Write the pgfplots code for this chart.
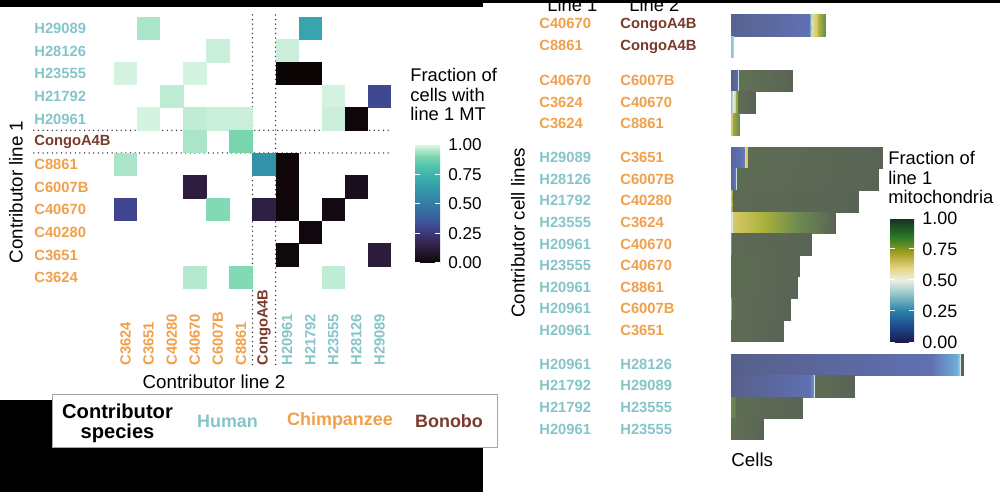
\documentclass[border=0pt]{standalone}
\usepackage{pgfplots}
\pgfplotsset{compat=1.18}
\usepackage{fontspec}
\setmainfont{Liberation Sans}
\setsansfont{Liberation Sans}

\definecolor{human}{RGB}{133,196,201}
\definecolor{chimp}{RGB}{240,160,75}
\definecolor{bonobo}{RGB}{122,59,43}
\definecolor{dotline}{RGB}{45,45,45}
\definecolor{boxgray}{RGB}{165,165,165}

\pgfplotsset{
  colorbar shift/.style={xshift=0pt},
  colormap={mako}{rgb255=(11,4,5) rgb255=(40,25,50) rgb255=(56,42,92) rgb255=(63,70,143)
    rgb255=(56,100,158) rgb255=(53,123,162) rgb255=(52,146,168) rgb255=(56,170,172)
    rgb255=(73,193,173) rgb255=(120,214,174) rgb255=(222,245,229)},
  colormap={mito}{rgb255(0cm)=(25,30,75) rgb255(12cm)=(30,70,140) rgb255(25cm)=(40,130,170)
    rgb255(38cm)=(140,195,200) rgb255(50cm)=(238,238,228) rgb255(60cm)=(228,210,130)
    rgb255(72cm)=(160,160,30) rgb255(85cm)=(40,120,40) rgb255(100cm)=(25,45,35)},
  colormap={mitomuted}{rgb255(0cm)=(86,96,138) rgb255(12cm)=(96,112,178) rgb255(25cm)=(110,175,215)
    rgb255(38cm)=(180,220,225) rgb255(50cm)=(235,238,225) rgb255(60cm)=(215,200,105)
    rgb255(72cm)=(170,178,60) rgb255(85cm)=(110,140,80) rgb255(100cm)=(90,100,85)},
}

\newcommand{\pair}[4]{\makebox[40.5bp][l]{\textcolor{#1}{#2}}\textcolor{#3}{#4}}
\newcommand{\lab}{\fontsize{7.4}{8}\selectfont\bfseries}
\newcommand{\ttl}{\fontsize{9.4}{10}\selectfont}

\begin{document}
\begin{tikzpicture}
\path[use as bounding box] (0,0) rectangle (500bp,246bp);
% black surround of the left panel
\fill[black] (0,0) rectangle (241.5bp,46bp);

% ---------- left: heatmap ----------
\begin{axis}[
  at={(57bp,101.5bp)}, anchor=south west,
  width=138.5bp, height=136bp, scale only axis,
  xmin=0.5, xmax=12.5, ymin=0.5, ymax=12.5,
  axis line style={draw=none}, tick style={draw=none},
  xtick={1,...,12}, ytick={1,...,12},
  xticklabels={\textcolor{chimp}{C3624},\textcolor{chimp}{C3651},\textcolor{chimp}{C40280},
    \textcolor{chimp}{C40670},\textcolor{chimp}{C6007B},\textcolor{chimp}{C8861},
    \textcolor{bonobo}{CongoA4B},\textcolor{human}{H20961},\textcolor{human}{H21792},
    \textcolor{human}{H23555},\textcolor{human}{H28126},\textcolor{human}{H29089}},
  yticklabels={\textcolor{chimp}{C3624},\textcolor{chimp}{C3651},\textcolor{chimp}{C40280},
    \textcolor{chimp}{C40670},\textcolor{chimp}{C6007B},\textcolor{chimp}{C8861},
    \textcolor{bonobo}{CongoA4B},\textcolor{human}{H20961},\textcolor{human}{H21792},
    \textcolor{human}{H23555},\textcolor{human}{H28126},\textcolor{human}{H29089}},
  tick label style={font=\lab, inner sep=0pt},
  x tick label style={rotate=90, anchor=west},
  xticklabel shift=38.5bp,
  y tick label style={anchor=west},
  yticklabel shift=40bp,
  colormap name=mako, point meta min=0, point meta max=1,
  colorbar,
  colorbar style={
    at={(207.5bp,173.5bp)}, anchor=north west,
    width=12.5bp, height=59bp, scale only axis,
    axis line style={draw=none}, xtick=\empty,
    ytick={0,0.25,0.5,0.75,1}, yticklabels={0.00,0.25,0.50,0.75,1.00},
    ytick style={draw=white, line width=0.5bp}, major tick length=2.5bp,
    tick align=inside, ytick pos=both, yticklabel pos=right,
    y tick label style={font=\fontsize{8.6}{9}\selectfont, anchor=west, inner sep=0pt, rotate=0},
    yticklabel shift=4bp,
  },
  clip=false,
]
\addplot[scatter, only marks, mark=square*, mark size=5.6bp,
  scatter/use mapped color={draw=mapped color, fill=mapped color},
  point meta=explicit] table[meta=v] {
x y v
2 12 0.95
9 12 0.68
5 11 0.98
8 11 0.98
1 10 0.99
4 10 0.99
8 10 0.00
9 10 0.00
3 9 0.97
10 9 0.99
12 9 0.31
2 8 0.99
4 8 0.97
5 8 0.98
6 8 0.98
10 8 0.98
11 8 0.01
4 7 0.95
6 7 0.90
1 6 0.95
7 6 0.60
8 6 0.01
4 5 0.13
8 5 0.01
11 5 0.05
1 4 0.30
5 4 0.91
7 4 0.14
8 4 0.01
10 4 0.03
9 3 0.02
8 2 0.02
12 2 0.12
4 1 0.96
6 1 0.91
10 1 0.97
};
\draw[dotline, line width=0.75bp, line cap=round, dash pattern=on 0pt off 2.3bp]
  (axis cs:6.5,12.59) -- (axis cs:6.5,-2.98)
  (axis cs:7.5,12.59) -- (axis cs:7.5,-2.98)
  (axis cs:-2.97,6.5) -- (axis cs:12.5,6.5)
  (axis cs:-2.97,7.5) -- (axis cs:12.5,7.5);
\end{axis}

\node[rotate=90, font=\ttl] at (8bp,150bp) {Contributor line 1};
\node[font=\ttl] at (107bp,55bp) {Contributor line 2};
\node[anchor=north west, align=left, inner sep=0pt, font=\fontsize{9.2}{9.8}\selectfont]
  at (205bp,212bp) {Fraction of\\cells with\\line 1 MT};

% legend box
\draw[boxgray, fill=white, line width=0.5bp] (26bp,22bp) rectangle (248.5bp,48.5bp);
\node[align=center, font=\fontsize{10.1}{10}\selectfont\bfseries] at (58.75bp,34.5bp) {Contributor\\species};
\node[font=\fontsize{9}{10}\selectfont\bfseries, text=human] at (113.75bp,35.5bp) {Human};
\node[font=\fontsize{9}{10}\selectfont\bfseries, text=chimp] at (170bp,35.5bp) {Chimpanzee};
\node[font=\fontsize{9}{10}\selectfont\bfseries, text=bonobo] at (224.5bp,35.5bp) {Bonobo};

% ---------- right: cells per pair ----------
\begin{axis}[
  at={(365.5bp,238.9bp)}, anchor=north west,
  width=120bp, height=212.85bp, scale only axis,
  xmin=0, xmax=240, ymin=-0.5, ymax=19.21, y dir=reverse,
  axis line style={draw=none}, tick style={draw=none}, xtick=\empty,
  ytick={0,1,2.57,3.57,4.57,6.14,7.14,8.14,9.14,10.14,11.14,12.14,13.14,14.14,15.71,16.71,17.71,18.71},
  yticklabels={
    {\pair{chimp}{C40670}{bonobo}{CongoA4B}},
    {\pair{chimp}{C8861}{bonobo}{CongoA4B}},
    {\pair{chimp}{C40670}{chimp}{C6007B}},
    {\pair{chimp}{C3624}{chimp}{C40670}},
    {\pair{chimp}{C3624}{chimp}{C8861}},
    {\pair{human}{H29089}{chimp}{C3651}},
    {\pair{human}{H28126}{chimp}{C6007B}},
    {\pair{human}{H21792}{chimp}{C40280}},
    {\pair{human}{H23555}{chimp}{C3624}},
    {\pair{human}{H20961}{chimp}{C40670}},
    {\pair{human}{H23555}{chimp}{C40670}},
    {\pair{human}{H20961}{chimp}{C8861}},
    {\pair{human}{H20961}{chimp}{C6007B}},
    {\pair{human}{H20961}{chimp}{C3651}},
    {\pair{human}{H20961}{human}{H28126}},
    {\pair{human}{H21792}{human}{H29089}},
    {\pair{human}{H21792}{human}{H23555}},
    {\pair{human}{H20961}{human}{H23555}}},
  y tick label style={anchor=west, inner sep=0pt, font=\lab},
  yticklabel shift=96bp,
  colormap name=mito, point meta min=0, point meta max=1,
  colorbar,
  colorbar style={
    at={(445bp,137bp)}, anchor=north west,
    width=12bp, height=62bp, scale only axis, y dir=normal,
    axis line style={draw=none}, xtick=\empty,
    ytick={0,0.25,0.5,0.75,1}, yticklabels={0.00,0.25,0.50,0.75,1.00},
    ytick style={draw=white, line width=0.5bp}, major tick length=2.5bp,
    tick align=inside, ytick pos=both, yticklabel pos=right,
    y tick label style={font=\fontsize{9}{10}\selectfont, anchor=west, inner sep=0pt},
    yticklabel shift=4bp,
  },
  clip=false,
]
\addplot[patch, patch type=rectangle, shader=interp, colormap name=mitomuted,
  point meta=explicit] table[meta=c] {
x y c
0 -0.5 0.02
79 -0.5 0.12
79 0.5 0.12
0 0.5 0.02
79 -0.5 0.25
81 -0.5 0.45
81 0.5 0.45
79 0.5 0.25
81 -0.5 0.55
87 -0.5 0.62
87 0.5 0.62
81 0.5 0.55
87 -0.5 0.70
94 -0.5 0.85
94 0.5 0.85
87 0.5 0.70
0 0.5 0.30
2 0.5 0.35
2 1.5 0.35
0 1.5 0.30
0 2.07 0.00
7 2.07 0.10
7 3.07 0.10
0 3.07 0.00
7 2.07 0.40
8 2.07 0.50
8 3.07 0.50
7 3.07 0.40
8 2.07 0.95
61 2.07 1.00
61 3.07 1.00
8 3.07 0.95
0 3.07 0.30
2 3.07 0.40
2 4.07 0.40
0 4.07 0.30
2 3.07 0.50
5 3.07 0.60
5 4.07 0.60
2 4.07 0.50
5 3.07 0.75
7 3.07 0.80
7 4.07 0.80
5 4.07 0.75
7 3.07 0.97
24 3.07 1.00
24 4.07 1.00
7 4.07 0.97
0 4.07 0.60
2 4.07 0.62
2 5.07 0.62
0 5.07 0.60
2 4.07 0.75
8 4.07 0.85
8 5.07 0.85
2 5.07 0.75
0 5.64 0.05
14 5.64 0.15
14 6.64 0.15
0 6.64 0.05
14 5.64 0.40
15 5.64 0.50
15 6.64 0.50
14 6.64 0.40
15 5.64 0.60
17 5.64 0.60
17 6.64 0.60
15 6.64 0.60
17 5.64 0.97
151 5.64 1.00
151 6.64 1.00
17 6.64 0.97
0 6.64 0.05
5 6.64 0.15
5 7.64 0.15
0 7.64 0.05
5 6.64 0.40
6 6.64 0.50
6 7.64 0.50
5 7.64 0.40
6 6.64 0.97
147 6.64 1.00
147 7.64 1.00
6 7.64 0.97
0 7.64 0.60
2 7.64 0.90
2 8.64 0.90
0 8.64 0.60
2 7.64 0.98
127 7.64 1.00
127 8.64 1.00
2 8.64 0.98
0 8.64 0.40
2 8.64 0.55
2 9.64 0.55
0 9.64 0.40
2 8.64 0.60
40 8.64 0.75
40 9.64 0.75
2 9.64 0.60
40 8.64 0.75
104 8.64 1.00
104 9.64 1.00
40 9.64 0.75
0 9.64 0.80
1 9.64 0.80
1 10.64 0.80
0 10.64 0.80
1 9.64 0.98
80 9.64 1.00
80 10.64 1.00
1 10.64 0.98
0 10.64 0.97
68 10.64 1.00
68 11.64 1.00
0 11.64 0.97
0 11.64 0.97
66 11.64 1.00
66 12.64 1.00
0 12.64 0.97
0 12.64 0.70
1 12.64 0.70
1 13.64 0.70
0 13.64 0.70
1 12.64 0.97
59 12.64 1.00
59 13.64 1.00
1 13.64 0.97
0 13.64 0.97
52 13.64 1.00
52 14.64 1.00
0 14.64 0.97
0 15.21 0.00
200 15.21 0.12
200 16.21 0.12
0 16.21 0.00
200 15.21 0.12
226 15.21 0.25
226 16.21 0.25
200 16.21 0.12
226 15.21 0.25
229 15.21 0.35
229 16.21 0.35
226 16.21 0.25
229 15.21 0.45
230 15.21 0.45
230 16.21 0.45
229 16.21 0.45
230 15.21 1.00
232 15.21 1.00
232 16.21 1.00
230 16.21 1.00
0 16.21 0.00
80 16.21 0.12
80 17.21 0.12
0 17.21 0.00
80 16.21 0.15
83 16.21 0.20
83 17.21 0.20
80 17.21 0.15
83 16.21 0.45
84 16.21 0.50
84 17.21 0.50
83 17.21 0.45
84 16.21 0.97
123 16.21 1.00
123 17.21 1.00
84 17.21 0.97
0 17.21 0.85
5 17.21 0.92
5 18.21 0.92
0 18.21 0.85
5 17.21 0.97
71 17.21 1.00
71 18.21 1.00
5 18.21 0.97
0 18.21 0.95
32 18.21 1.00
32 19.21 1.00
0 19.21 0.95
};
\end{axis}

\node[rotate=90, font=\ttl] at (259bp,129.5bp) {Contributor cell lines};
\node[anchor=base west, inner sep=0pt, font=\ttl] at (365.5bp,13bp) {Cells};
\node[anchor=north west, align=left, inner sep=0pt, font=\fontsize{9.2}{9.8}\selectfont]
  at (444bp,170.5bp) {Fraction of\\line 1\\mitochondria};
\node[anchor=base west, inner sep=0pt, font=\fontsize{9.2}{10}\selectfont] at (273.5bp,240bp) {Line 1};
\node[anchor=base west, inner sep=0pt, font=\fontsize{9.2}{10}\selectfont] at (314.5bp,240bp) {Line 2};

% black strips along the top
\fill[black] (0,246bp) rectangle (241.5bp,242.4bp);
\fill[black] (241.5bp,246bp) rectangle (500bp,244.3bp);
\end{tikzpicture}
\end{document}
